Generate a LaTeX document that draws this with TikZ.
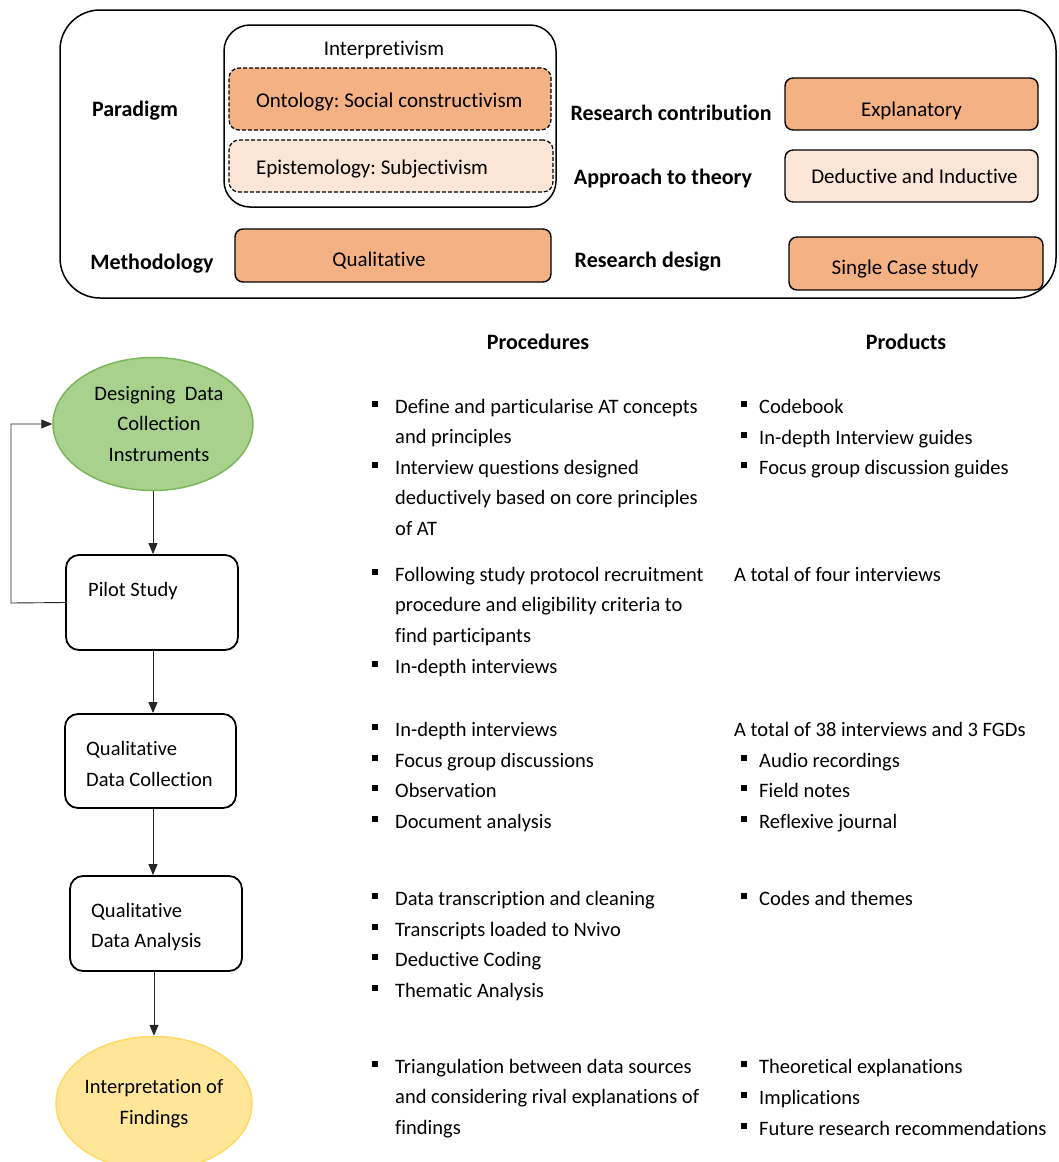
\documentclass[tikz,border=0pt]{standalone}
\usepackage{fontspec}
\setmainfont{Carlito}[Ligatures=NoCommon]
\usetikzlibrary{arrows.meta,shapes.geometric}
\definecolor{orng}{HTML}{F4B183}
\definecolor{peach}{HTML}{FBE5D6}
\definecolor{grnfill}{HTML}{A9D18E}
\definecolor{grnline}{HTML}{7DB65A}
\definecolor{yelfill}{HTML}{FFE699}
\definecolor{yelline}{HTML}{FFD966}
\newcommand{\regf}{\fontsize{20.5}{30.5}\selectfont}
\newcommand{\topf}{\fontsize{21}{26}\selectfont}
\newcommand{\bldf}{\fontsize{22}{28}\selectfont\bfseries}
\newcommand{\sqb}{\rule[6pt]{5.5pt}{6.5pt}}
\newcommand{\pbul}[1]{\parbox[t]{345pt}{\hangindent=23pt\hangafter=1\noindent\makebox[23pt][l]{\sqb}#1}}
\newcommand{\qbul}[1]{\parbox[t]{330pt}{\hangindent=18pt\hangafter=1\noindent\makebox[18pt][l]{\sqb}#1}}
\frenchspacing
\begin{document}
\frenchspacing
\begin{tikzpicture}[x=1pt,y=-1pt,
  tbox/.style={draw, line width=1.4pt, rounded corners=8pt, inner sep=0pt, font=\topf, text depth=0pt},
  dbox/.style={draw, line width=1.2pt, dash pattern=on 4pt off 2pt, rounded corners=10pt, inner ysep=0pt, font=\topf, text depth=0pt},
  lbl/.style={anchor=mid, inner sep=0pt, font=\bldf},
  fbox/.style={draw, line width=1.8pt, rounded corners=13pt, inner sep=0pt},
  ftxt/.style={inner sep=0pt, font=\regf, align=left},
  item/.style={anchor=base west, inner sep=0pt, font=\regf},
  arr/.style={draw=black!85, line width=0.9pt, -{Triangle[length=11pt,width=9pt]}}
]
\useasboundingbox (0,0) rectangle (1058,1162);

% ---------- top frame ----------
\node[draw, line width=1.5pt, rounded corners=40pt, minimum width=996pt, minimum height=288pt] (frame) at (558,154) {};
\node[draw, line width=1.5pt, rounded corners=26pt, minimum width=332pt, minimum height=182pt] (interp) at (390,116) {};
\node[inner sep=0pt, font=\topf, anchor=mid] (interpT) at (384,53) {Interpretivism};
\node[dbox, fill=orng, inner xsep=27pt, minimum height=62pt, text height=16pt] (onto) at (390,99) {\makebox[268pt][l]{Ontology: Social constructivism}};
\node[dbox, fill=peach, inner xsep=27pt, minimum height=52pt, text height=16pt] (epis) at (391,166) {\makebox[270pt][l]{Epistemology: Subjectivism}};
\node[tbox, fill=orng, minimum width=316pt, minimum height=53pt, text height=21pt] (qual) at (393,255.5) {\hspace*{-28pt}Qualitative};

\node[lbl] (parad) at (135,114) {Paradigm};
\node[lbl] (meth) at (152,267) {Methodology};
\node[lbl] (rc) at (671,118) {Research contribution};
\node[lbl] (att) at (663,182) {Approach to theory};
\node[lbl] (rd) at (648,265) {Research design};

\node[tbox, fill=orng, minimum width=253pt, minimum height=52pt, text height=24pt] (expl) at (911.5,104) {Explanatory};
\node[tbox, fill=peach, minimum width=253pt, minimum height=52pt, text height=14pt] (ded) at (911.5,176) {\hspace*{6pt}Deductive and Inductive};
\node[tbox, fill=orng, minimum width=254pt, minimum height=53pt, text height=21pt] (single) at (916,263.5) {\hspace*{-22pt}Single Case study};

% ---------- headers ----------
\node[lbl] (hproc) at (538,347) {Procedures};
\node[lbl] (hprod) at (906,347) {Products};

% ---------- flow ----------
\node[ellipse, draw=grnline, line width=1.5pt, fill=grnfill, minimum width=200pt, minimum height=133pt, inner sep=0pt, font=\regf, align=center] (design) at (153,424) {\hspace*{12pt}Designing\ \ Data\\\hspace*{12pt}Collection\\\hspace*{12pt}Instruments};
\node[fbox, minimum width=172pt, minimum height=95pt] (pilot) at (152,602.5) {};
\node[ftxt, anchor=mid west] (pilotT) at (88,594) {Pilot Study};
\node[fbox, minimum width=171pt, minimum height=94pt] (qdc) at (150.5,761) {};
\node[ftxt, anchor=west] (qdcT) at (86,764) {Qualitative\\Data Collection};
\node[fbox, minimum width=172pt, minimum height=95pt] (qda) at (156,923.5) {};
\node[ftxt, anchor=west] (qdaT) at (91,927) {Qualitative\\Data Analysis};
\node[ellipse, draw=yelline, line width=1.5pt, fill=yelfill, minimum width=188pt, minimum height=134pt, inner sep=0pt, font=\regf, align=center] (interpf) at (154,1103.5) {Interpretation of\\Findings};

\coordinate (fb) at (11,603);
\draw[arr] (design.south -| 153,0) -- (pilot.north -| 153,0);
\draw[arr] (pilot.south -| 153,0) -- (qdc.north -| 153,0);
\draw[arr] (qdc.south -| 153,0) -- (qda.north -| 153,0);
\draw[arr] (qda.south -| 154,0) -- (interpf.north -| 154,0);
\draw[arr] (pilot.west) -- (fb) |- (design.west);

% ---------- procedures ----------
\node[item] (p1a) at (372,413) {\pbul{Define and particularise AT concepts\\and principles}};
\node[item] (p1b) at (372,474) {\pbul{Interview questions designed\\deductively based on core principles\\of AT}};
\node[item] (p2a) at (372,581) {\pbul{Following study protocol recruitment\\procedure and eligibility criteria to\\find participants}};
\node[item] (p2b) at (372,673) {\pbul{In-depth interviews}};
\node[item] (p3a) at (372,736) {\pbul{In-depth interviews}};
\node[item] (p3b) at (372,767) {\pbul{Focus group discussions}};
\node[item] (p3c) at (372,797) {\pbul{Observation}};
\node[item] (p3d) at (372,828) {\pbul{Document analysis}};
\node[item] (p4a) at (372,905) {\pbul{Data transcription and cleaning}};
\node[item] (p4b) at (372,936) {\pbul{Transcripts loaded to Nvivo}};
\node[item] (p4c) at (372,966) {\pbul{Deductive Coding}};
\node[item] (p4d) at (372,997) {\pbul{Thematic Analysis}};
\node[item] (p5a) at (372,1073) {\pbul{Triangulation between data sources\\and considering rival explanations of\\findings}};

% ---------- products ----------
\node[item] (q1a) at (741,413) {\qbul{Codebook}};
\node[item] (q1b) at (741,444) {\qbul{In-depth Interview guides}};
\node[item] (q1c) at (741,474) {\qbul{Focus group discussion guides}};
\node[item] (q2a) at (734,581) {A total of four interviews};
\node[item] (q3a) at (734,736) {A total of 38 interviews and 3 FGDs};
\node[item] (q3b) at (741,767) {\qbul{Audio recordings}};
\node[item] (q3c) at (741,797) {\qbul{Field notes}};
\node[item] (q3d) at (741,828) {\qbul{Reflexive journal}};
\node[item] (q4a) at (741,905) {\qbul{Codes and themes}};
\node[item] (q5a) at (741,1073) {\qbul{Theoretical explanations}};
\node[item] (q5b) at (741,1104) {\qbul{Implications}};
\node[item] (q5c) at (741,1135) {\qbul{Future research recommendations}};
\end{tikzpicture}
\end{document}
